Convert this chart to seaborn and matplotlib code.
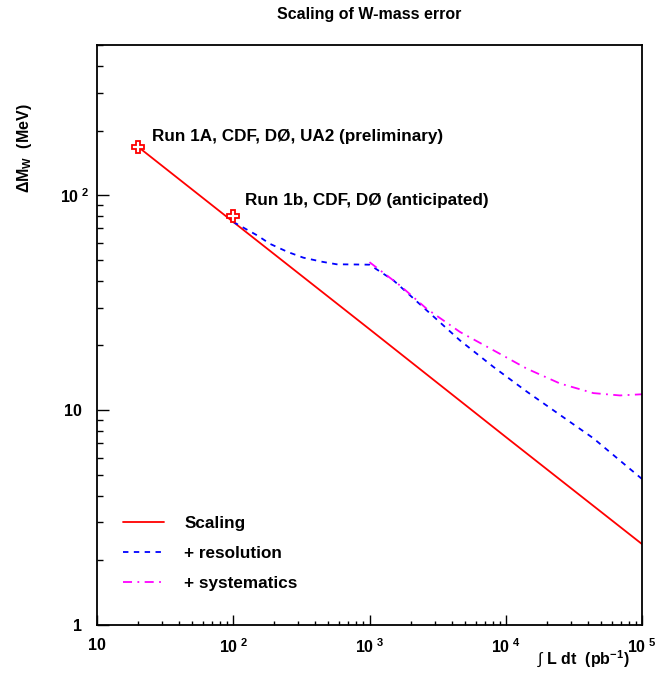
import numpy as np
import pandas as pd
import matplotlib
matplotlib.use("Agg")
import matplotlib.pyplot as plt
import matplotlib.transforms as mtransforms
import seaborn as sns
from matplotlib.ticker import FixedLocator, NullFormatter, LogLocator

# ---- data ----
lumi_scaling = [20, 100, 1000, 10000, 100000]
dm_scaling = [168, 75.1, 23.8, 7.5, 2.38]

lumi_resolution = [100, 150, 186, 250, 327, 450, 574, 800, 1000, 1496, 2631, 4614, 8105, 14250, 25000, 43900, 100000]
dm_resolution = [75.1, 65.0, 59.4, 54.5, 51.2, 49.0, 47.7, 47.6, 47.5, 40.2, 29.1, 21.1, 15.9, 12.2, 9.5, 7.4, 4.78]

lumi_systematics = [1000, 1675, 2631, 4614, 8105, 14250, 25000, 43900, 68900, 100000]
dm_systematics = [48.8, 38.0, 29.6, 23.1, 19.0, 15.6, 13.3, 12.0, 11.7, 11.85]

marker_lumi = [20, 100]
marker_dm = [168, 80]
marker_labels = ["Run 1A, CDF, DØ, UA2 (preliminary)", "Run 1b, CDF, DØ (anticipated)"]

xticks_major = [10, 100, 1000, 10000, 100000]
xtick_labels = ["10", r"$\mathbf{10^{\ 2}}$", r"$\mathbf{10^{\ 3}}$", r"$\mathbf{10^{\ 4}}$", r"$\mathbf{10^{\ 5}}$"]
yticks_major = [1, 10, 100]
ytick_labels = ["1", "10", r"$\mathbf{10^{\ 2}}$"]

sns.set_style("white")
plt.rcParams["font.family"] = ["Liberation Sans", "DejaVu Sans"]
plt.rcParams["mathtext.fontset"] = "custom"
plt.rcParams["mathtext.bf"] = "Liberation Sans:bold"
plt.rcParams["mathtext.rm"] = "Liberation Sans"
plt.rcParams["text.color"] = "black"
plt.rcParams["axes.labelcolor"] = "black"
plt.rcParams["xtick.color"] = "black"
plt.rcParams["ytick.color"] = "black"

FS = 12.3

fig = plt.figure(figsize=(6.58, 6.73), dpi=100)
ax = fig.add_axes([97 / 658, 1 - 625 / 673, (642 - 97) / 658, (625 - 45) / 673])

df_s = pd.DataFrame({"L": lumi_scaling, "dM": dm_scaling})
df_r = pd.DataFrame({"L": lumi_resolution, "dM": dm_resolution})
df_y = pd.DataFrame({"L": lumi_systematics, "dM": dm_systematics})

sns.lineplot(data=df_s, x="L", y="dM", ax=ax, color="#ff0000", lw=1.3, label="Scaling", sort=False)
sns.lineplot(data=df_r, x="L", y="dM", ax=ax, color="#0000ff", lw=1.3, label="+ resolution", sort=False)
ax.lines[-1].set_linestyle((0, (3, 3)))
sns.lineplot(data=df_y, x="L", y="dM", ax=ax, color="#ff00ff", lw=1.3, label="+ systematics", sort=False)
ax.lines[-1].set_linestyle((0, (5, 3, 1, 3)))

ax.plot(marker_lumi, marker_dm, linestyle="none", marker="P", markersize=9,
        markerfacecolor="white", markeredgecolor="#ff0000", markeredgewidth=1.3, zorder=5)

ax.text(25.3, 187, marker_labels[0], fontsize=FS, fontweight="bold", va="center", ha="left")
ax.text(122, 94, marker_labels[1], fontsize=FS, fontweight="bold", va="center", ha="left")

ax.set_xscale("log")
ax.set_yscale("log")
ax.set_xlim(10, 1e5)
ax.set_ylim(1, 500)

ax.xaxis.set_major_locator(FixedLocator(xticks_major))
ax.yaxis.set_major_locator(FixedLocator(yticks_major))
ax.set_xticklabels(xtick_labels)
ax.set_yticklabels(ytick_labels)
ax.xaxis.set_minor_locator(LogLocator(base=10, subs=np.arange(2, 10)))
ax.yaxis.set_minor_locator(LogLocator(base=10, subs=np.arange(2, 10)))
ax.xaxis.set_minor_formatter(NullFormatter())
ax.yaxis.set_minor_formatter(NullFormatter())
ax.tick_params(axis="x", which="major", direction="in", length=7.2, width=1, labelsize=11.5, pad=9,
               top=False, bottom=True)
ax.tick_params(axis="x", which="minor", direction="in", length=3.2, width=1, top=False, bottom=True)
ax.tick_params(axis="y", which="major", direction="in", length=8.6, width=1, labelsize=11.5, pad=11,
               right=False, left=True)
ax.tick_params(axis="y", which="minor", direction="in", length=4.3, width=1, right=False, left=True)
for lab in ax.get_xticklabels() + ax.get_yticklabels():
    lab.set_fontweight("bold")
# ROOT-style placement: the exponent label sits a little closer to the axis
ylabs = ax.get_yticklabels()
ylabs[2].set_transform(ylabs[2].get_transform() +
                       mtransforms.ScaledTranslation(8 / 100, 0, fig.dpi_scale_trans))
for s in ax.spines.values():
    s.set_color("black")
    s.set_linewidth(1.3)

ax.set_xlabel("")
ax.set_ylabel("")
fig.text(25 / 658, 1 - 148 / 673, r"$\mathbf{\Delta M_{W}}$  (MeV)", rotation=90, fontsize=11.5,
         fontweight="bold", ha="center", va="center")
fig.text(630 / 658, 1 - 659 / 673, r"$\int$ L dt  (pb$^{\mathbf{-1}}$)", fontsize=11.5, fontweight="bold",
         ha="right", va="center")
fig.text(369 / 658, 1 - 15 / 673, "Scaling of W-mass error", fontsize=11.5, fontweight="bold",
         ha="center", va="center")

leg = ax.legend(loc="lower left", bbox_to_anchor=(26 / 545, 34 / 580), frameon=False, fontsize=FS,
                handlelength=2.4, handletextpad=1.2, labelspacing=0.88, borderaxespad=0, borderpad=0)
for t in leg.get_texts():
    t.set_fontweight("bold")

fig.savefig("out.png", dpi=100)
